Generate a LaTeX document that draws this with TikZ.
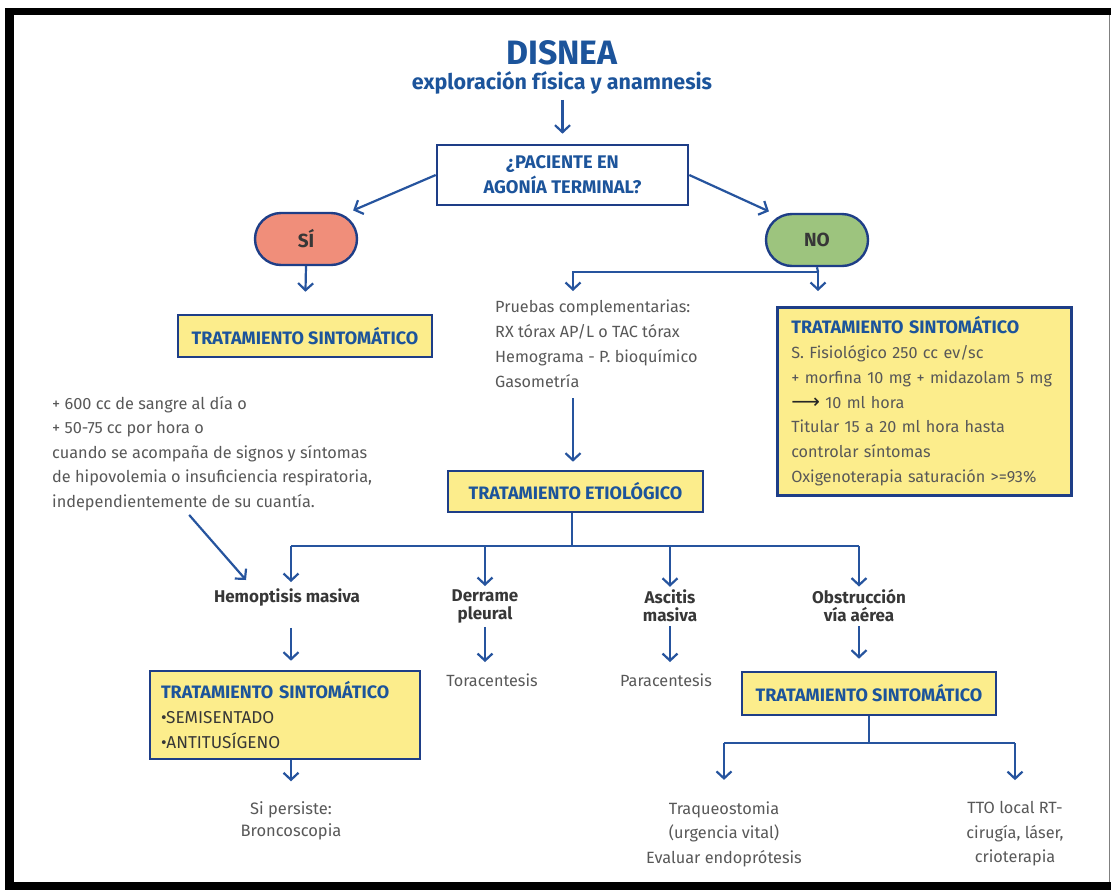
\documentclass[tikz,border=0pt]{standalone}
\usepackage{fontspec}
\setmainfont{Fira Sans}
\newfontfamily\arrowfont{DejaVu Sans}
\usetikzlibrary{arrows.meta}
\definecolor{navy}{RGB}{30,62,135}
\definecolor{flow}{RGB}{38,84,158}
\definecolor{headblue}{RGB}{28,84,155}
\definecolor{bodygray}{RGB}{88,88,88}
\definecolor{labelgray}{RGB}{55,55,55}
\definecolor{boxyellow}{RGB}{252,237,140}
\definecolor{sisalmon}{RGB}{240,142,122}
\definecolor{nogreen}{RGB}{157,196,126}
\newcommand{\fsz}[2]{\fontsize{#1}{#2}\selectfont}
\newcommand{\headfont}{\fsz{18}{25}\bfseries}
\begin{document}
\begin{tikzpicture}[x=1pt,y=-1pt,
  flowline/.style={draw=flow,line width=2.2pt},
  arr/.style={flowline,-{Straight Barb[length=7pt,width=15pt]}},
  ybox/.style={draw=navy,line width=2.6pt,fill=boxyellow,inner sep=0pt},
  bodytxt/.style={text=bodygray,font=\fsz{16.2}{25}},
  notetxt/.style={text=bodygray,font=\fsz{16.3}{24.5}},
  labeltxt/.style={text=labelgray,font=\fsz{17}{18}\bfseries,align=center,inner sep=2pt},
  pill/.style={draw=navy,line width=2.4pt,rounded corners=26pt,minimum width=102,
    minimum height=52,text=labelgray,font=\fsz{19}{20}\bfseries},
  qbox/.style={draw=navy,line width=2.6pt,fill=white,minimum width=251,minimum height=60,
    align=center,text=headblue,font=\fsz{18.3}{25}\bfseries}
]
\useasboundingbox (0,0) rectangle (1111,892);
\fill[white] (0,0) rectangle (1111,892);
% outer frame
\fill[black] (5,8) rectangle (1111,15);
\fill[black] (5,8) rectangle (14,890);
\fill[black] (5,882) rectangle (1111,890);
\draw[gray,line width=1.2pt] (1109.4,15) -- (1109.4,882);

% title
\node[text=headblue,font=\fsz{33.8}{36}\bfseries] (title) at (562,53) {DISNEA};
\node[text=headblue,font=\fsz{21.5}{24}\bfseries] (sub) at (562,83) {exploración física y anamnesis};

% question and answers
\node[qbox] (q) at (562.5,175) {¿PACIENTE EN\\AGONÍA TERMINAL?};
\node[pill,fill=sisalmon] (si) at (306,239) {SÍ};
\node[pill,fill=nogreen] (no) at (817,240) {NO};

\draw[arr,shorten <=2pt,shorten >=10pt] (sub.south -| q.north) -- (q.north);
\draw[arr,shorten >=1pt] (q.west) -- ([xshift=-6,yshift=1]si.north east);
\draw[arr,shorten >=1pt] (q.east) -- ([xshift=5,yshift=1]no.north west);

% SI branch
\node[ybox,minimum width=254,minimum height=42] (ts1) at (305,336) {\textcolor{headblue}{\headfont TRATAMIENTO SINTOMÁTICO}};
\draw[arr,shorten >=22pt] (si.south) -- (ts1.north);

% NO branch
\node[bodytxt,anchor=north west,align=left,inner sep=0pt] (pr) at (495,300)
  {Pruebas complementarias:\\RX tórax AP/L o TAC tórax\\Hemograma - P. bioquímico\\Gasometría};
\node[ybox,anchor=north west,text width=266,inner xsep=14,minimum height=188,align=left,font=\fsz{16.2}{24.8},text=bodygray] (ts2) at (776,306)
  {{\textcolor{headblue}{\headfont TRATAMIENTO SINTOMÁTICO}}\\
   S. Fisiológico 250 cc ev/sc\\
   + morfina 10 mg + midazolam 5 mg\\
   {\arrowfont\fsz{20}{24.8}\textcolor{black!85}{⟶}} 10 ml hora\\
   Titular 15 a 20 ml hora hasta\\
   controlar síntomas\\
   Oxigenoterapia saturación >=93\%};
\coordinate (nofork) at (818,272);
\coordinate (prtop) at ([xshift=78]pr.north west);
\coordinate (prbot) at ([xshift=78]pr.south west);
\draw[flowline] (no.south) -- (nofork);
\draw[arr,shorten >=15pt] (nofork) -- (ts2.north -| nofork);
\draw[arr,shorten >=9pt] (nofork) -| (prtop);

% etiological treatment
\node[ybox,minimum width=255,minimum height=41] (etio) at (575.5,491.5) {\textcolor{headblue}{\headfont TRATAMIENTO ETIOLÓGICO}};
\draw[arr,shorten <=10pt,shorten >=8pt] (prbot) -- (etio.north -| prbot);

% causes
\node[labeltxt] (hem) at (287,597) {Hemoptisis masiva};
\node[labeltxt] (der) at (485,606) {Derrame\\pleural};
\node[labeltxt] (asc) at (670,606) {Ascitis\\masiva};
\node[labeltxt] (obs) at (859,606) {Obstrucción\\vía aérea};
\coordinate (hub) at (572,546);
\coordinate (hemtop) at ([xshift=4]hem.north);
\draw[flowline] (etio.south -| hub) -- (hub);
\draw[flowline] (hemtop |- hub) -- (obs.north |- hub);
\draw[arr,shorten >=4pt] (hemtop |- hub) -- (hemtop);
\foreach \n in {der,asc,obs} \draw[arr,shorten >=1pt] (\n.north |- hub) -- (\n.north);

% note on massive haemoptysis
\node[notetxt,anchor=north west,align=left,inner sep=0pt] (note) at (52,396)
  {+ 600 cc de sangre al día o\\+ 50-75 cc por hora o\\cuando se acompaña de signos y síntomas\\de hipovolemia o insuficiencia respiratoria,\\independientemente de su cuantía.};
\coordinate (notefoot) at ([xshift=-23,yshift=-4]note.south);
\coordinate (hemin) at (246,580);
\draw[arr] (notefoot) -- (hemin);

% haemoptysis treatment
\node[ybox,text width=248,inner xsep=11,minimum height=88,align=left,font=\fsz{17.2}{25},text=labelgray] (hbox) at (285,715)
  {{\textcolor{headblue}{\headfont TRATAMIENTO SINTOMÁTICO}}\\
   •SEMISENTADO\\
   •ANTITUSÍGENO};
\coordinate (hembot) at ([xshift=4]hem.south);
\coordinate (hboxbot) at ([xshift=6]hbox.south);
\draw[arr,shorten <=20pt,shorten >=9pt] (hembot) -- (hembot |- hbox.north);
\node[notetxt,align=center,font=\fsz{16.5}{22}] (bronco) at (291,821) {Si persiste:\\Broncoscopia};
\draw[arr,shorten >=17pt] (hboxbot) -- (hboxbot |- bronco.north);

% pleural effusion, ascites
\node[bodytxt] (tora) at (492,680) {Toracentesis};
\node[bodytxt] (para) at (666,680) {Paracentesis};
\draw[arr,shorten <=2pt,shorten >=8pt] (der.south) -- (der.south |- tora.north);
\draw[arr,shorten <=2pt,shorten >=8pt] (asc.south) -- (asc.south |- para.north);

% airway obstruction
\node[ybox,minimum width=254,minimum height=43] (tbox) at (869,693.5) {\textcolor{headblue}{\headfont TRATAMIENTO SINTOMÁTICO}};
\draw[arr,shorten <=2pt,shorten >=12pt] (obs.south) -- (obs.south |- tbox.north);
\node[notetxt,align=center] (traq) at (724,834) {Traqueostomia\\(urgencia vital)\\Evaluar endoprótesis};
\node[notetxt,align=center] (tto) at (1015,834) {TTO local RT-\\cirugía, láser,\\crioterapia};
\coordinate (hub2) at (869,743);
\draw[flowline] (tbox.south) -- (hub2);
\draw[flowline] (traq.north |- hub2) -- (tto.north |- hub2);
\draw[arr,shorten >=18pt] (traq.north |- hub2) -- (traq.north);
\draw[arr,shorten >=18pt] (tto.north |- hub2) -- (tto.north);
\end{tikzpicture}
\end{document}
